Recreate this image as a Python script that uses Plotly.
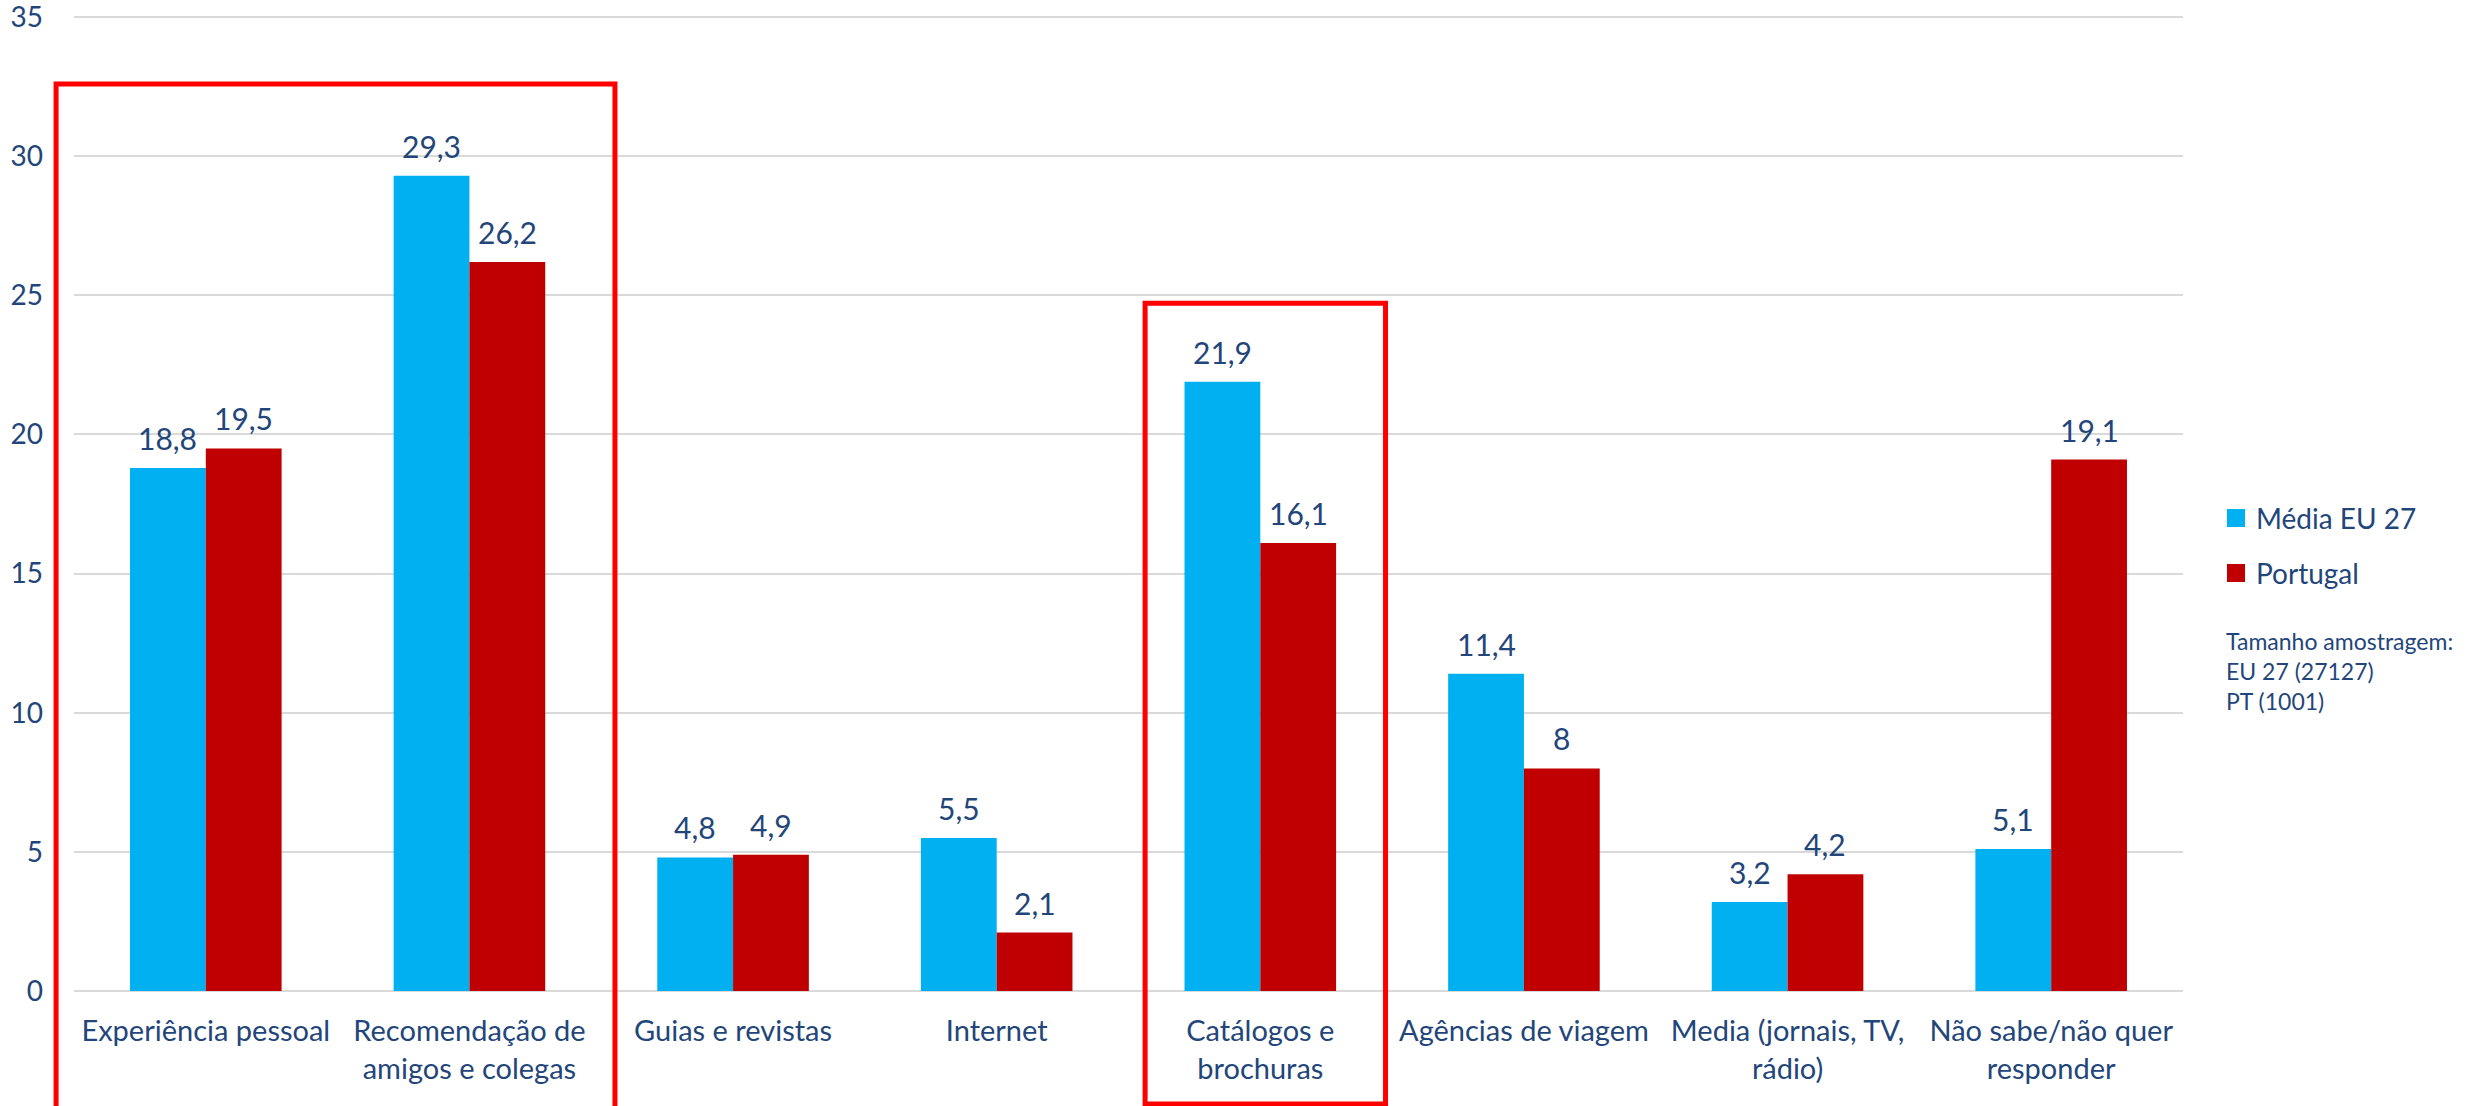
import plotly.graph_objects as go

# Fontes de informação usadas na escolha do destino de férias (%)
categories = [
    "Experiência pessoal",
    "Recomendação de<br>amigos e colegas",
    "Guias e revistas",
    "Internet",
    "Catálogos e<br>brochuras",
    "Agências de viagem",
    "Media (jornais, TV,<br>rádio)",
    "Não sabe/não quer<br>responder",
]
eu27 = [18.8, 29.3, 4.8, 5.5, 21.9, 11.4, 3.2, 5.1]
portugal = [19.5, 26.2, 4.9, 2.1, 16.1, 8.0, 4.2, 19.1]
series_names = ["Média EU 27", "Portugal"]
y_ticks = [0, 5, 10, 15, 20, 25, 30, 35]
sample_note = "Tamanho amostragem:<br>EU 27 (27127)<br>PT (1001)"

# Caixas de destaque em unidades dos eixos: (x0, x1, topo, base)
highlights = [(-0.568, 1.552, 32.6, -5.5), (3.563, 4.475, 24.72, -4.06)]

FONT = "Lato"
TEXT = "#23467A"
BLUE = "#00B0F0"
RED = "#C00000"
BOX = "#FF0000"
GRID = "#D9D9D9"
BARGAP = 0.425
X_RANGE = [-0.5, len(categories) - 0.5]
Y_RANGE = [0, 35.04]

W, H = 2471, 1106
ML, MR, MT, MB = 74, 288, 16, 115

x = list(range(len(categories)))
half = (1 - BARGAP) / 4  # distância do centro da categoria ao centro de cada barra


def fmt(v):
    return f"{v:g}".replace(".", ",")


def to_paper(px, py):
    """Converte uma posição em píxeis da página para coordenadas 'paper'."""
    return (px - ML) / (W - ML - MR), (H - MB - py) / (H - MT - MB)


def xdom(v):
    return (v - X_RANGE[0]) / (X_RANGE[1] - X_RANGE[0])


def ydom(v):
    return (v - Y_RANGE[0]) / (Y_RANGE[1] - Y_RANGE[0])


fig = go.Figure()
for name, vals, color in [(series_names[0], eu27, BLUE), (series_names[1], portugal, RED)]:
    fig.add_trace(go.Bar(
        x=x, y=vals, name=name, marker=dict(color=color, line=dict(width=0)),
        hoverinfo="skip", showlegend=False,
    ))

# Rótulos de valor por cima das barras
for vals, sign in [(eu27, -1), (portugal, 1)]:
    for i, v in enumerate(vals):
        fig.add_annotation(
            x=i + sign * half, y=v, text=fmt(v), showarrow=False,
            xanchor="center", yanchor="bottom", yshift=10,
            font=dict(family=FONT, size=30, color=TEXT),
        )

# Legenda: quadrado de cor + nome da série
for name, color, cy in [(series_names[0], BLUE, 518), (series_names[1], RED, 573)]:
    x0, y0 = to_paper(2227, cy + 9)
    x1, y1 = to_paper(2245, cy - 9)
    fig.add_shape(type="rect", xref="paper", yref="paper", x0=x0, x1=x1, y0=y0, y1=y1,
                  fillcolor=color, line=dict(width=0))
    tx, ty = to_paper(2254, cy)
    fig.add_annotation(xref="paper", yref="paper", x=tx, y=ty, xanchor="left", yanchor="middle",
                       text=name, showarrow=False,
                       font=dict(family=FONT, size=28, color=TEXT))

nx, ny = to_paper(2224, 625)
fig.add_annotation(
    xref="paper", yref="paper", x=nx, y=ny, xanchor="left", yanchor="top",
    text=sample_note, showarrow=False, align="left",
    font=dict(family=FONT, size=23, color=TEXT),
)

# Caixas vermelhas em torno das categorias destacadas
for x0, x1, top, bottom in highlights:
    fig.add_shape(
        type="rect", xref="x domain", yref="y domain",
        x0=xdom(x0), x1=xdom(x1), y0=ydom(bottom), y1=ydom(top),
        line=dict(color=BOX, width=5), fillcolor="rgba(0,0,0,0)", layer="above",
    )

fig.update_layout(
    width=W, height=H,
    margin=dict(l=ML, r=MR, t=MT, b=MB, pad=0),
    paper_bgcolor="white", plot_bgcolor="white",
    barmode="group", bargap=BARGAP, bargroupgap=0,
    font=dict(family=FONT, color=TEXT),
    showlegend=False,
    xaxis=dict(
        range=X_RANGE, tickmode="array", tickvals=x, ticktext=categories,
        showgrid=False, zeroline=False, showline=False, ticks="",
        tickfont=dict(family=FONT, size=29, color=TEXT), ticklabelstandoff=20,
        tickangle=0, automargin=False, ticklabeloverflow="allow",
    ),
    yaxis=dict(
        range=Y_RANGE, tickmode="array", tickvals=y_ticks,
        showgrid=True, gridcolor=GRID, gridwidth=2,
        zeroline=True, zerolinecolor=GRID, zerolinewidth=2,
        showline=False, ticks="",
        tickfont=dict(family=FONT, size=28, color=TEXT), ticklabelstandoff=30,
        automargin=False, ticklabeloverflow="allow",
    ),
)

fig.write_html("out.html")
